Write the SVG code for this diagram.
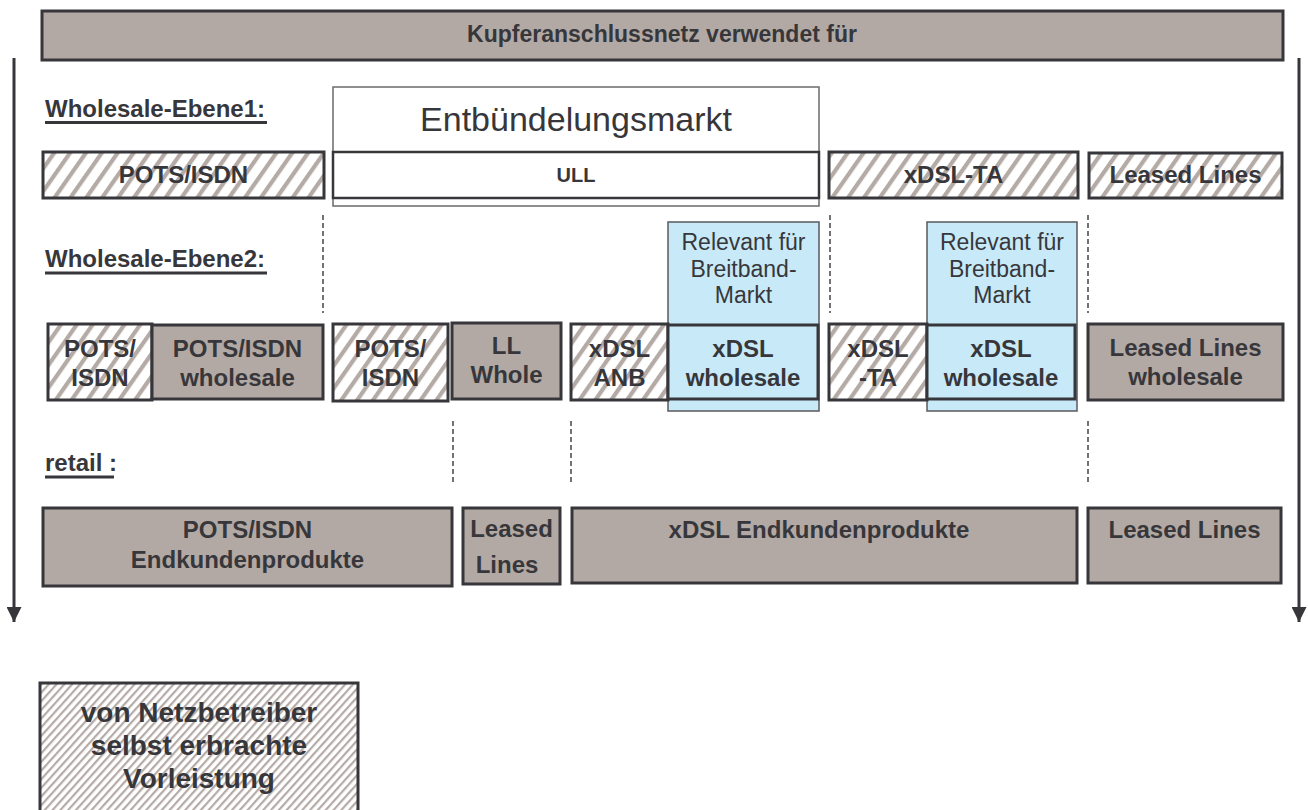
<svg xmlns="http://www.w3.org/2000/svg" width="1308" height="810" viewBox="0 0 1308 810">
<defs>
<pattern id="hatch" patternUnits="userSpaceOnUse" width="13" height="13" patternTransform="rotate(35)">
<rect width="13" height="13" fill="#ffffff"/>
<rect x="0" y="0" width="4.2" height="13" fill="#b5aba6"/>
</pattern>
<pattern id="hatchFine" patternUnits="userSpaceOnUse" width="5.8" height="5.8" patternTransform="rotate(42)">
<rect width="5.8" height="5.8" fill="#ffffff"/>
<rect x="0" y="0" width="2.2" height="5.8" fill="#b5aba6"/>
</pattern>
<marker id="arrow" viewBox="0 0 10 10" refX="10" refY="5" markerUnits="userSpaceOnUse" markerWidth="15" markerHeight="15" orient="auto">
<path d="M0,0 L10,5 L0,10 Z" fill="#37373b"/>
</marker>
<style>
.t{font-family:"Liberation Sans",Arial,sans-serif;fill:#37373b;}
.b{font-weight:bold;font-size:24px;text-anchor:middle;}
.lbl{font-weight:bold;font-size:24px;}
.reg{font-size:23px;text-anchor:middle;}
.gray{fill:#b3a9a4;stroke:#37373b;stroke-width:3;}
.hat{fill:url(#hatch);stroke:#37373b;stroke-width:3;}
.white{fill:#ffffff;stroke:#37373b;stroke-width:2.5;}
.blue{fill:#c8eaf8;stroke:#5a5a5e;stroke-width:1.5;}
.bluebox{fill:#c8eaf8;stroke:#37373b;stroke-width:3;}
.dash{stroke:#444448;stroke-width:1.5;stroke-dasharray:5,3;fill:none;}
.ul{stroke:#37373b;stroke-width:2.8;}
</style>
</defs>
<rect width="1308" height="810" fill="#ffffff"/>

<g id="header">
<rect class="gray" x="42" y="11" width="1241" height="49"/>
<text class="t" x="662" y="42" text-anchor="middle" font-weight="bold" font-size="23">Kupferanschlussnetz verwendet für</text>
</g>

<g id="labels">
<text class="t lbl" x="45" y="117">Wholesale-Ebene1:</text>
<line class="ul" x1="45" y1="122.5" x2="267" y2="122.5"/>
<text class="t lbl" x="45" y="267">Wholesale-Ebene2:</text>
<line class="ul" x1="45" y1="273" x2="267" y2="273"/>
<text class="t lbl" x="45" y="471">retail :</text>
<line class="ul" x1="45" y1="477" x2="114" y2="477"/>
</g>

<g id="connectors">
<line x1="14" y1="58" x2="14" y2="622" stroke="#37373b" stroke-width="3" marker-end="url(#arrow)"/>
<line x1="1299" y1="58" x2="1299" y2="622" stroke="#37373b" stroke-width="3" marker-end="url(#arrow)"/>
<line class="dash" x1="323" y1="215" x2="323" y2="313"/>
<line class="dash" x1="830" y1="215" x2="830" y2="313"/>
<line class="dash" x1="1088" y1="215" x2="1088" y2="313"/>
<line class="dash" x1="453" y1="421" x2="453" y2="484"/>
<line class="dash" x1="571" y1="421" x2="571" y2="484"/>
<line class="dash" x1="1088" y1="421" x2="1088" y2="484"/>
</g>

<g id="entbuendelungsmarkt">
<rect x="333" y="87" width="486" height="119" fill="#ffffff" stroke="#6a6a6e" stroke-width="1.5"/>
<text class="t" x="576" y="131" text-anchor="middle" font-size="34">Entbündelungsmarkt</text>
</g>

<g id="w1-pots">
<rect class="hat" x="43" y="152" width="281" height="46"/>
<text class="t b" x="183.5" y="183">POTS/ISDN</text>
</g>
<g id="w1-ull">
<rect class="white" x="333" y="152" width="486" height="46"/>
<text class="t" x="576" y="182" text-anchor="middle" font-weight="bold" font-size="20">ULL</text>
</g>
<g id="w1-xdslta">
<rect class="hat" x="829" y="152" width="249" height="46"/>
<text class="t b" x="953.5" y="183">xDSL-TA</text>
</g>
<g id="w1-ll">
<rect class="hat" x="1089" y="153" width="193" height="45"/>
<text class="t b" x="1185.5" y="183">Leased Lines</text>
</g>

<g id="relevant1">
<rect class="blue" x="668" y="222" width="151" height="189"/>
<text class="t reg" x="743.5" y="250">Relevant für</text>
<text class="t reg" x="743.5" y="277">Breitband-</text>
<text class="t reg" x="743.5" y="303">Markt</text>
</g>
<g id="relevant2">
<rect class="blue" x="927" y="222" width="150" height="189"/>
<text class="t reg" x="1002" y="250">Relevant für</text>
<text class="t reg" x="1002" y="277">Breitband-</text>
<text class="t reg" x="1002" y="303">Markt</text>
</g>

<g id="w2-pots-own">
<rect class="hat" x="48" y="324" width="104" height="76"/>
<text class="t b" x="100" y="357">POTS/</text>
<text class="t b" x="100" y="386">ISDN</text>
</g>
<g id="w2-pots-wholesale">
<rect class="gray" x="152" y="325" width="171" height="74"/>
<text class="t b" x="237.5" y="357">POTS/ISDN</text>
<text class="t b" x="237.5" y="386">wholesale</text>
</g>
<g id="w2-pots-own2">
<rect class="hat" x="333" y="324" width="115" height="77"/>
<text class="t b" x="390.5" y="357">POTS/</text>
<text class="t b" x="390.5" y="386">ISDN</text>
</g>
<g id="w2-ll-whole">
<rect class="gray" x="452" y="323" width="109" height="76"/>
<text class="t b" x="506.5" y="354">LL</text>
<text class="t b" x="506.5" y="383">Whole</text>
</g>
<g id="w2-xdsl-anb">
<rect class="hat" x="571" y="324" width="97" height="76"/>
<text class="t b" x="619.5" y="357">xDSL</text>
<text class="t b" x="619.5" y="386">ANB</text>
</g>
<g id="w2-xdsl-wholesale1">
<rect class="bluebox" x="668" y="325" width="150" height="74"/>
<text class="t b" x="743" y="357">xDSL</text>
<text class="t b" x="743" y="386">wholesale</text>
</g>
<g id="w2-xdsl-ta">
<rect class="hat" x="829" y="324" width="98" height="76"/>
<text class="t b" x="878" y="357">xDSL</text>
<text class="t b" x="878" y="386">-TA</text>
</g>
<g id="w2-xdsl-wholesale2">
<rect class="bluebox" x="927" y="325" width="148" height="74"/>
<text class="t b" x="1001" y="357">xDSL</text>
<text class="t b" x="1001" y="386">wholesale</text>
</g>
<g id="w2-ll-wholesale">
<rect class="gray" x="1088" y="324" width="195" height="76"/>
<text class="t b" x="1185.5" y="356">Leased Lines</text>
<text class="t b" x="1185.5" y="385">wholesale</text>
</g>

<g id="r-pots">
<rect class="gray" x="43" y="508" width="409" height="78"/>
<text class="t b" x="247.5" y="538">POTS/ISDN</text>
<text class="t b" x="247.5" y="568">Endkundenprodukte</text>
</g>
<g id="r-ll-small">
<rect class="gray" x="463" y="508" width="97" height="76"/>
<text class="t b" x="511.5" y="537">Leased</text>
<text class="t b" x="507" y="573">Lines</text>
</g>
<g id="r-xdsl">
<rect class="gray" x="572" y="508" width="505" height="75"/>
<text class="t b" x="819" y="538">xDSL Endkundenprodukte</text>
</g>
<g id="r-ll">
<rect class="gray" x="1088" y="508" width="193" height="75"/>
<text class="t b" x="1184.5" y="538">Leased Lines</text>
</g>

<g id="legend">
<rect x="40" y="683" width="318" height="135" fill="url(#hatchFine)" stroke="#37373b" stroke-width="3"/>
<text class="t" x="199" y="722" text-anchor="middle" font-weight="bold" font-size="28">von Netzbetreiber</text>
<text class="t" x="199" y="755" text-anchor="middle" font-weight="bold" font-size="28">selbst erbrachte</text>
<text class="t" x="199" y="788" text-anchor="middle" font-weight="bold" font-size="28">Vorleistung</text>
</g>
</svg>
